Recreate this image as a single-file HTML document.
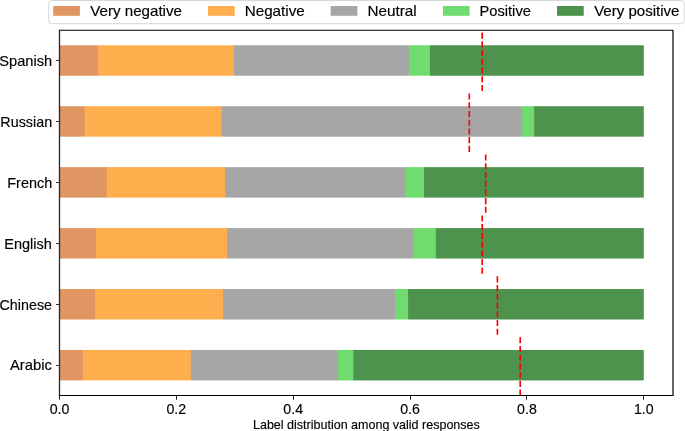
<!DOCTYPE html>
<html><head><meta charset="utf-8"><style>
html,body{margin:0;padding:0;background:#fff;overflow:hidden;}
svg{display:block;will-change:transform;}
text{font-family:"Liberation Sans", sans-serif;fill:#000;stroke:#000;stroke-width:0.15px;}
</style></head><body>
<svg width="685" height="431" viewBox="0 0 685 431">
<rect width="685" height="431" fill="#fff"/>
<defs><mask id="c5" maskUnits="userSpaceOnUse" x="0" y="0" width="685" height="431"><rect x="59.5" y="45.27" width="584.30" height="30.47" fill="#fff"/></mask><mask id="c4" maskUnits="userSpaceOnUse" x="0" y="0" width="685" height="431"><rect x="59.5" y="106.20" width="584.30" height="30.47" fill="#fff"/></mask><mask id="c3" maskUnits="userSpaceOnUse" x="0" y="0" width="685" height="431"><rect x="59.5" y="167.14" width="584.30" height="30.47" fill="#fff"/></mask><mask id="c2" maskUnits="userSpaceOnUse" x="0" y="0" width="685" height="431"><rect x="59.5" y="228.08" width="584.30" height="30.47" fill="#fff"/></mask><mask id="c1" maskUnits="userSpaceOnUse" x="0" y="0" width="685" height="431"><rect x="59.5" y="289.02" width="584.30" height="30.47" fill="#fff"/></mask><mask id="c0" maskUnits="userSpaceOnUse" x="0" y="0" width="685" height="431"><rect x="59.5" y="349.96" width="584.30" height="30.47" fill="#fff"/></mask></defs>
<g mask="url(#c5)">
<rect x="59.50" y="43.27" width="586.30" height="34.47" fill="#e09662"/>
<rect x="98.10" y="43.27" width="547.70" height="34.47" fill="#ffae4d"/>
<rect x="234.00" y="43.27" width="411.80" height="34.47" fill="#a6a6a6"/>
<rect x="408.90" y="43.27" width="236.90" height="34.47" fill="#70dc70"/>
<rect x="429.90" y="43.27" width="215.90" height="34.47" fill="#4d924d"/>
</g>
<g mask="url(#c4)">
<rect x="59.50" y="104.20" width="586.30" height="34.47" fill="#e09662"/>
<rect x="84.80" y="104.20" width="561.00" height="34.47" fill="#ffae4d"/>
<rect x="221.70" y="104.20" width="424.10" height="34.47" fill="#a6a6a6"/>
<rect x="522.10" y="104.20" width="123.70" height="34.47" fill="#70dc70"/>
<rect x="534.20" y="104.20" width="111.60" height="34.47" fill="#4d924d"/>
</g>
<g mask="url(#c3)">
<rect x="59.50" y="165.14" width="586.30" height="34.47" fill="#e09662"/>
<rect x="106.80" y="165.14" width="539.00" height="34.47" fill="#ffae4d"/>
<rect x="225.10" y="165.14" width="420.70" height="34.47" fill="#a6a6a6"/>
<rect x="405.30" y="165.14" width="240.50" height="34.47" fill="#70dc70"/>
<rect x="424.00" y="165.14" width="221.80" height="34.47" fill="#4d924d"/>
</g>
<g mask="url(#c2)">
<rect x="59.50" y="226.08" width="586.30" height="34.47" fill="#e09662"/>
<rect x="96.00" y="226.08" width="549.80" height="34.47" fill="#ffae4d"/>
<rect x="227.00" y="226.08" width="418.80" height="34.47" fill="#a6a6a6"/>
<rect x="413.30" y="226.08" width="232.50" height="34.47" fill="#70dc70"/>
<rect x="435.80" y="226.08" width="210.00" height="34.47" fill="#4d924d"/>
</g>
<g mask="url(#c1)">
<rect x="59.50" y="287.02" width="586.30" height="34.47" fill="#e09662"/>
<rect x="95.00" y="287.02" width="550.80" height="34.47" fill="#ffae4d"/>
<rect x="222.90" y="287.02" width="422.90" height="34.47" fill="#a6a6a6"/>
<rect x="395.10" y="287.02" width="250.70" height="34.47" fill="#70dc70"/>
<rect x="408.10" y="287.02" width="237.70" height="34.47" fill="#4d924d"/>
</g>
<g mask="url(#c0)">
<rect x="59.50" y="347.96" width="586.30" height="34.47" fill="#e09662"/>
<rect x="82.90" y="347.96" width="562.90" height="34.47" fill="#ffae4d"/>
<rect x="190.80" y="347.96" width="455.00" height="34.47" fill="#a6a6a6"/>
<rect x="337.90" y="347.96" width="307.90" height="34.47" fill="#70dc70"/>
<rect x="353.30" y="347.96" width="292.50" height="34.47" fill="#4d924d"/>
</g>
<path d="M482.20 90.97 V30.03" stroke="#ff0000" stroke-width="1.645" stroke-dasharray="6.09 2.63" fill="none"/>
<path d="M469.30 151.91 V90.97" stroke="#ff0000" stroke-width="1.645" stroke-dasharray="6.09 2.63" fill="none"/>
<path d="M485.70 212.85 V151.91" stroke="#ff0000" stroke-width="1.645" stroke-dasharray="6.09 2.63" fill="none"/>
<path d="M482.20 273.79 V212.85" stroke="#ff0000" stroke-width="1.645" stroke-dasharray="6.09 2.63" fill="none"/>
<path d="M497.40 334.73 V273.79" stroke="#ff0000" stroke-width="1.645" stroke-dasharray="6.09 2.63" fill="none"/>
<path d="M520.20 395.67 V334.73" stroke="#ff0000" stroke-width="1.645" stroke-dasharray="6.09 2.63" fill="none"/>
<path d="M59.0 30.3 H673.0" fill="none" stroke="#000" stroke-width="1.05"/>
<path d="M59.5 29.8 V396.0" fill="none" stroke="#262626" stroke-width="1.3"/>
<path d="M59.1 395.55 H673.0" fill="none" stroke="#000" stroke-width="1.1"/>
<path d="M673.0 30.1 V395.9" fill="none" stroke="#000" stroke-width="1.2"/>
<path d="M56.00 60.50 H59.5" stroke="#000" stroke-width="0.8"/>
<text x="-0.72" y="65.50" font-size="14.2" textLength="52.81" lengthAdjust="spacingAndGlyphs" text-anchor="start">Spanish</text>
<path d="M56.00 121.50 H59.5" stroke="#000" stroke-width="0.8"/>
<text x="0.33" y="127.44" font-size="14.2" textLength="51.81" lengthAdjust="spacingAndGlyphs" text-anchor="start">Russian</text>
<path d="M56.00 182.50 H59.5" stroke="#000" stroke-width="0.8"/>
<text x="7.26" y="188.08" font-size="14.2" textLength="44.93" lengthAdjust="spacingAndGlyphs" text-anchor="start">French</text>
<path d="M56.00 243.50 H59.5" stroke="#000" stroke-width="0.8"/>
<text x="4.24" y="248.82" font-size="14.2" textLength="47.63" lengthAdjust="spacingAndGlyphs" text-anchor="start">English</text>
<path d="M56.00 304.50 H59.5" stroke="#000" stroke-width="0.8"/>
<text x="-0.49" y="309.56" font-size="14.2" textLength="52.48" lengthAdjust="spacingAndGlyphs" text-anchor="start">Chinese</text>
<path d="M56.00 365.50 H59.5" stroke="#000" stroke-width="0.8"/>
<text x="9.98" y="370.20" font-size="14.2" textLength="41.97" lengthAdjust="spacingAndGlyphs" text-anchor="start">Arabic</text>
<path d="M59.50 395.5 V399.7" stroke="#000" stroke-width="0.9"/>
<text x="59.50" y="414" text-anchor="middle" font-size="14.6" textLength="19.73" lengthAdjust="spacingAndGlyphs">0.0</text>
<path d="M176.50 395.5 V399.7" stroke="#000" stroke-width="0.9"/>
<text x="176.36" y="414" text-anchor="middle" font-size="14.6" textLength="19.73" lengthAdjust="spacingAndGlyphs">0.2</text>
<path d="M293.50 395.5 V399.7" stroke="#000" stroke-width="0.9"/>
<text x="293.22" y="414" text-anchor="middle" font-size="14.6" textLength="19.73" lengthAdjust="spacingAndGlyphs">0.4</text>
<path d="M410.50 395.5 V399.7" stroke="#000" stroke-width="0.9"/>
<text x="410.08" y="414" text-anchor="middle" font-size="14.6" textLength="19.73" lengthAdjust="spacingAndGlyphs">0.6</text>
<path d="M526.50 395.5 V399.7" stroke="#000" stroke-width="0.9"/>
<text x="526.94" y="414" text-anchor="middle" font-size="14.6" textLength="19.73" lengthAdjust="spacingAndGlyphs">0.8</text>
<path d="M643.50 395.5 V399.7" stroke="#000" stroke-width="0.9"/>
<text x="643.80" y="414" text-anchor="middle" font-size="14.6" textLength="19.73" lengthAdjust="spacingAndGlyphs">1.0</text>
<text x="252.98" y="428.70" font-size="11.9" textLength="226.84" lengthAdjust="spacingAndGlyphs" text-anchor="start">Label distribution among valid responses</text>
<rect x="48.7" y="0.6" width="635.5" height="23.1" rx="2.8" ry="2.8" fill="#fff" fill-opacity="0.8" stroke="#d6d6d6" stroke-width="1"/>
<rect x="53.2" y="6.0" width="26.7" height="9.8" fill="#e09662"/>
<text x="90.23" y="15.70" font-size="14.2" textLength="91.73" lengthAdjust="spacingAndGlyphs" text-anchor="start">Very negative</text>
<rect x="208.0" y="6.0" width="26.7" height="9.8" fill="#ffae4d"/>
<text x="244.68" y="15.70" font-size="14.2" textLength="60.14" lengthAdjust="spacingAndGlyphs" text-anchor="start">Negative</text>
<rect x="330.7" y="6.0" width="26.7" height="9.8" fill="#a6a6a6"/>
<text x="367.43" y="15.70" font-size="14.2" textLength="49.28" lengthAdjust="spacingAndGlyphs" text-anchor="start">Neutral</text>
<rect x="442.9" y="6.0" width="26.7" height="9.8" fill="#70dc70"/>
<text x="479.49" y="15.70" font-size="14.2" textLength="51.42" lengthAdjust="spacingAndGlyphs" text-anchor="start">Positive</text>
<rect x="557.0" y="6.0" width="26.7" height="9.8" fill="#4d924d"/>
<text x="594.17" y="15.70" font-size="14.2" textLength="85.28" lengthAdjust="spacingAndGlyphs" text-anchor="start">Very positive</text>
</svg>
</body></html>
